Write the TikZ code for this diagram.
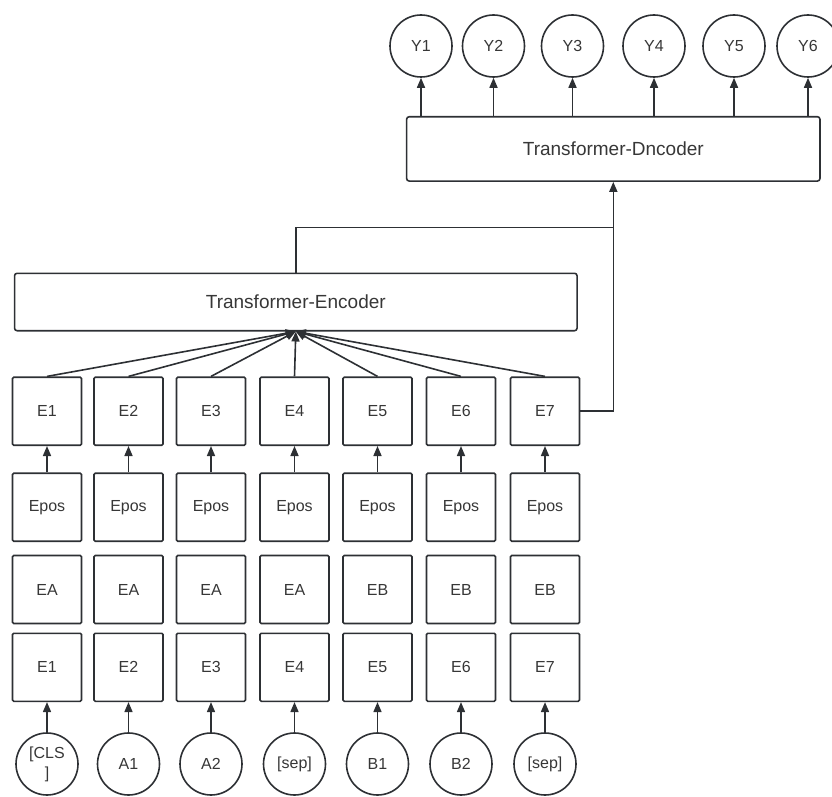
\documentclass[tikz,border=0pt]{standalone}
\usepackage{fontspec}
\setmainfont{Liberation Sans}
\usetikzlibrary{arrows.meta}
\definecolor{ln}{RGB}{45,48,52}
\definecolor{tx}{RGB}{55,55,55}
\begin{document}
\begin{tikzpicture}[x=1pt,y=-1pt,
  lbl/.style={font=\fontsize{16}{20}\selectfont, text=tx},
  box/.style={lbl, draw=ln, line width=1.6pt, rounded corners=1.2pt, minimum width=69pt, minimum height=68pt, inner sep=0pt},
  tok/.style={lbl, draw=ln, line width=1.6pt, circle, minimum size=62pt, inner sep=0pt, align=center},
  bigbox/.style={draw=ln, line width=1.6pt, rounded corners=2.5pt, inner sep=0pt, font=\fontsize{19}{22}\selectfont, text=tx},
  conn/.style={draw=ln, line width=1.6pt},
  arr/.style={conn, -{Triangle[length=10pt,width=8pt]}}]
\path[use as bounding box] (0,0) rectangle (832,797);

% columns
\def\cols{1/47,2/128.5,3/211,4/294.5,5/377.5,6/461,7/545}
\foreach \i/\x in \cols {
  \node[box] (t\i) at (\x,411.2) {E\i};
  \node[box] (p\i) at (\x,507.2) {Epos};
  \node[box] (w\i) at (\x,667.3) {E\i};
}
\foreach \i/\x/\s in {1/47/EA,2/128.5/EA,3/211/EA,4/294.5/EA,5/377.5/EB,6/461/EB,7/545/EB}
  \node[box] (s\i) at (\x,589.5) {\s};

% input tokens
\node[tok] (in1) at (47,764) {[CLS\\]};
\node[tok] (in2) at (128.5,764) {A1};
\node[tok] (in3) at (211,764) {A2};
\node[tok] (in4) at (294.5,764) {[sep]};
\node[tok] (in5) at (377.5,764) {B1};
\node[tok] (in6) at (461,764) {B2};
\node[tok] (in7) at (545,764) {[sep]};

% encoder / decoder
\node[bigbox, minimum width=562.5pt, minimum height=57.4pt] (enc) at (295.8,302) {Transformer-Encoder};
\node[bigbox, minimum width=413.3pt, minimum height=64.3pt] (dec) at (613.3,148.9) {Transformer-Dncoder};

% outputs
\foreach \i/\x in {1/421,2/493.5,3/572.5,4/654,5/734,6/808}
  \node[tok] (y\i) at (\x,46) {Y\i};

% connectors
\foreach \i in {1,...,7} {
  \draw[arr] (in\i) -- (w\i);
  \draw[arr] (p\i) -- (t\i);
  \draw[arr] (t\i.north) -- (enc.south);
}
\foreach \i in {1,...,6}
  \draw[arr] (dec.north -| y\i) -- (y\i);

\coordinate (jn) at (613.3,227.3);
\draw[conn] (enc.north) |- (jn);
\draw[arr] (t7.east) -| (dec.south);
\end{tikzpicture}
\end{document}
